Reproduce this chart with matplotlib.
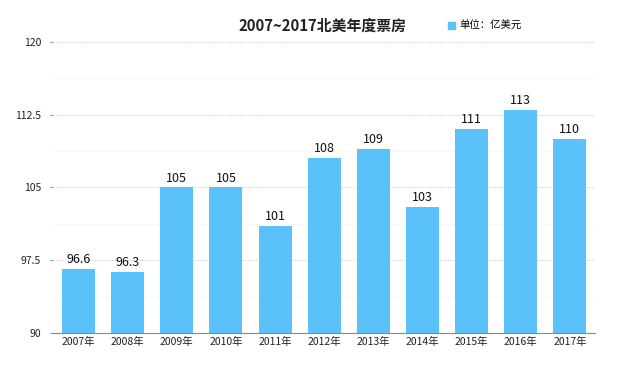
import matplotlib.pyplot as plt
from matplotlib.ticker import MultipleLocator
from matplotlib.patches import Patch

plt.rcParams['font.family'] = ['Noto Sans CJK SC', 'DejaVu Sans']

# data
years = ['2007年', '2008年', '2009年', '2010年', '2011年', '2012年',
         '2013年', '2014年', '2015年', '2016年', '2017年']
box_office = [96.6, 96.3, 105, 105, 101, 108, 109, 103, 111, 113, 110]
labels = ['96.6', '96.3', '105', '105', '101', '108', '109', '103', '111', '113', '110']

bar_color = '#5bc1fb'

fig = plt.figure(figsize=(6.2, 3.65), dpi=100)
ax = fig.add_axes([0.0855, 0.088, 0.874, 0.797])

x = range(len(years))
ax.bar(x, box_office, width=0.67, color=bar_color, zorder=2)

for xi, v, lab in zip(x, box_office, labels):
    ax.text(xi, v + 0.3, lab, ha='center', va='bottom', fontsize=9, color='#111111')

ax.set_ylim(90, 120)
ax.set_xlim(-0.52, 10.51)
ax.yaxis.set_minor_locator(MultipleLocator(3.75))
ax.set_yticks([90, 97.5, 105, 112.5, 120])
ax.set_yticklabels(['90', '97.5', '105', '112.5', '120'])
ax.grid(axis='y', which='major', linestyle=(0, (1, 1.5)), color='#cccccc', linewidth=0.8, zorder=0)
ax.grid(axis='y', which='minor', linestyle=(0, (1, 1.5)), color='#eeeeee', linewidth=0.8, zorder=0)

ax.set_xticks(list(x))
ax.set_xticklabels(years)
ax.tick_params(axis='x', length=0, labelsize=7.5, colors='#222222', pad=3)
ax.tick_params(axis='y', which='major', length=2.5, color='#999999', labelsize=7.5,
               labelcolor='#222222', pad=6)
ax.tick_params(axis='y', which='minor', length=0)

for s in ['top', 'right', 'left']:
    ax.spines[s].set_visible(False)
ax.spines['bottom'].set_color('#888888')
ax.spines['bottom'].set_linewidth(0.8)

fig.text(0.52, 0.93, '2007~2017北美年度票房', ha='center', va='center',
         fontsize=10.7, fontweight='bold', color='#222222')
fig.legend(handles=[Patch(color=bar_color, label='单位：亿美元')],
           loc='center left', bbox_to_anchor=(0.722, 0.929), frameon=False,
           fontsize=7.5, handlelength=0.7, handleheight=0.7, handletextpad=0.4,
           borderpad=0, borderaxespad=0)

fig.savefig('out.png', dpi=100)
